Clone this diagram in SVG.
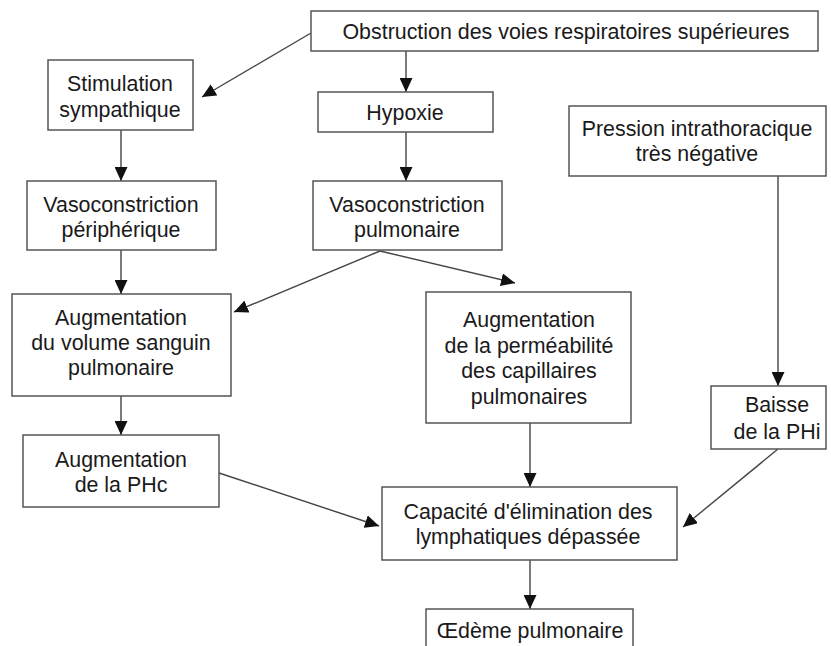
<svg xmlns="http://www.w3.org/2000/svg" width="831" height="646" viewBox="0 0 831 646">
<style>
.box{fill:#fff;stroke:#555;stroke-width:1.5}
.t{font-family:"Liberation Sans",Arial,sans-serif;font-size:21.4px;fill:#1a1a1a;text-anchor:middle}
.c{stroke:#444;stroke-width:1.4;fill:none;marker-end:url(#ah)}
</style>
<defs>
<marker id="ah" markerUnits="userSpaceOnUse" markerWidth="15" markerHeight="13" refX="14" refY="6.5" orient="auto">
<path d="M0,0 L14,6.5 L0,13 Z" fill="#111"/>
</marker>
</defs>
<rect width="831" height="646" fill="#fff"/>
<g id="connectors">
<line class="c" x1="311" y1="33" x2="202" y2="97"/>
<line class="c" x1="406" y1="51" x2="406" y2="92"/>
<line class="c" x1="121" y1="130" x2="121" y2="181"/>
<line class="c" x1="406" y1="132" x2="406" y2="181"/>
<line class="c" x1="121" y1="250" x2="121" y2="294"/>
<line class="c" x1="380" y1="251" x2="234" y2="312"/>
<line class="c" x1="380" y1="251" x2="515" y2="283"/>
<line class="c" x1="778" y1="176" x2="778" y2="386"/>
<line class="c" x1="121" y1="396" x2="121" y2="435"/>
<line class="c" x1="219" y1="473" x2="379" y2="526"/>
<line class="c" x1="530" y1="423" x2="530" y2="487"/>
<line class="c" x1="778" y1="449" x2="683" y2="527"/>
<line class="c" x1="530" y1="560" x2="530" y2="609"/>
</g>
<g id="n-obstruction"><rect class="box" x="311" y="11" width="507" height="40"/><text class="t" x="566" y="39">Obstruction des voies respiratoires supérieures</text></g>
<g id="n-stimulation"><rect class="box" x="48" y="60" width="145" height="70"/><text class="t" x="120" y="91">Stimulation</text><text class="t" x="120" y="117">sympathique</text></g>
<g id="n-hypoxie"><rect class="box" x="318" y="92" width="175" height="40"/><text class="t" x="405" y="120">Hypoxie</text></g>
<g id="n-vaso-periph"><rect class="box" x="27" y="181" width="189" height="69"/><text class="t" x="121" y="212">Vasoconstriction</text><text class="t" x="121" y="237">périphérique</text></g>
<g id="n-vaso-pulm"><rect class="box" x="313" y="181" width="189" height="69"/><text class="t" x="407" y="212">Vasoconstriction</text><text class="t" x="407" y="237">pulmonaire</text></g>
<g id="n-pression"><rect class="box" x="569" y="106" width="257" height="70"/><text class="t" x="697" y="136">Pression intrathoracique</text><text class="t" x="697" y="161">très négative</text></g>
<g id="n-volume"><rect class="box" x="12" y="294" width="219" height="102"/><text class="t" x="121" y="325">Augmentation</text><text class="t" x="121" y="350">du volume sanguin</text><text class="t" x="121" y="375">pulmonaire</text></g>
<g id="n-permeabilite"><rect class="box" x="426" y="292" width="205" height="131"/><text class="t" x="529" y="327">Augmentation</text><text class="t" x="529" y="353">de la perméabilité</text><text class="t" x="529" y="378">des capillaires</text><text class="t" x="529" y="404">pulmonaires</text></g>
<g id="n-baisse"><rect class="box" x="711" y="386" width="115" height="63"/><text class="t" x="777" y="412">Baisse</text><text class="t" x="777" y="439">de la PHi</text></g>
<g id="n-phc"><rect class="box" x="23" y="435" width="196" height="72"/><text class="t" x="121" y="467">Augmentation</text><text class="t" x="121" y="492">de la PHc</text></g>
<g id="n-capacite"><rect class="box" x="382" y="487" width="295" height="73"/><text class="t" x="528" y="519">Capacité d'élimination des</text><text class="t" x="528" y="544">lymphatiques dépassée</text></g>
<g id="n-oedeme"><rect class="box" x="426" y="609" width="207" height="50"/><text class="t" x="530" y="638">Œdème pulmonaire</text></g>
</svg>
